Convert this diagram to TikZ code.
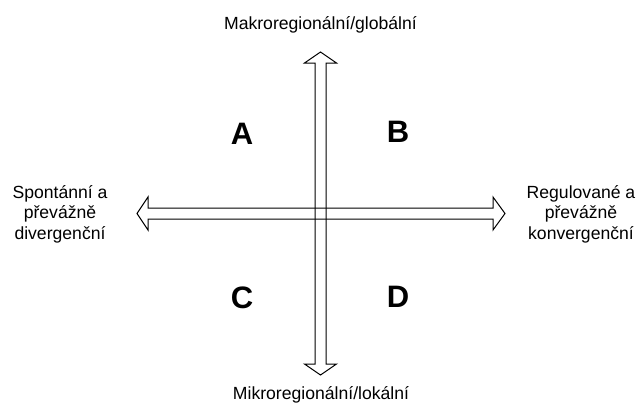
\documentclass[tikz,border=0pt]{standalone}
\usepackage{fontspec}
\setmainfont{Liberation Sans}
\begin{document}
\begin{tikzpicture}[x=1pt,y=-1pt,
  arrowline/.style={draw=black,line width=1pt,line join=miter},
  axislabel/.style={font=\fontsize{17.6}{20.5}\selectfont,align=center,inner sep=0pt},
  quadlabel/.style={font=\fontsize{31}{36}\selectfont\bfseries,inner sep=0pt,anchor=base}]
\useasboundingbox (0,0) rectangle (637,408);
% horizontal double arrow
\coordinate (hl) at (137,213.5);
\coordinate (hr) at (505,213.5);
\draw[arrowline] (hl) -- (148,197) -- (148,208) -- (493,208) -- (493,197) -- (hr)
  -- (493,230) -- (493,219) -- (148,219) -- (148,230) -- cycle;
% vertical double arrow
\coordinate (vt) at (320.5,52);
\coordinate (vb) at (320.5,375);
\draw[arrowline] (vt) -- (336.5,63) -- (326,63) -- (326,364) -- (336.5,364) -- (vb)
  -- (304.5,364) -- (315,364) -- (315,63) -- (304.5,63) -- cycle;
% axis labels
\node[axislabel,anchor=base] (top) at (320.5,29) {Makroregionální/globální};
\node[axislabel,anchor=base] (bottom) at (321,399) {Mikroregionální/lokální};
\node[axislabel] (left) at (60,214) {Spontánní a\\převážně\\divergenční};
\node[axislabel] (right) at (581,214) {Regulované a\\převážně\\konvergenční};
% quadrant letters
\node[quadlabel] (A) at (242,144) {A};
\node[quadlabel] (B) at (398,142) {B};
\node[quadlabel] (C) at (242,308) {C};
\node[quadlabel] (D) at (398,307) {D};
\end{tikzpicture}
\end{document}
